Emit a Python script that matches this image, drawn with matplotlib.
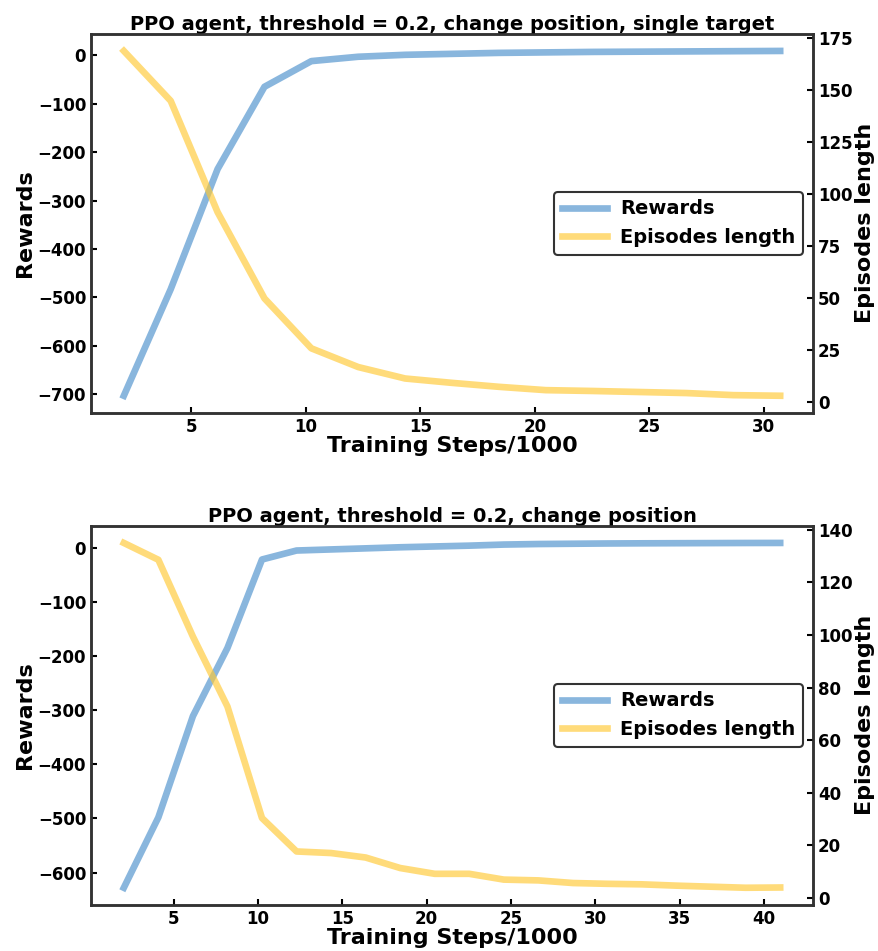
import numpy as np
import matplotlib
matplotlib.use('Agg')
import matplotlib.pyplot as plt

# Training steps (x1000), one point every 2048 steps
steps_single = [2.048 * k for k in range(1, 16)]
steps_multi = [2.048 * k for k in range(1, 21)]

# Top panel: single target
rewards_single = [-703, -483, -235, -65, -12, -3, 1, 3, 5, 6, 7, 7.5, 8, 8.5, 9]
eplen_single = [169, 145, 91.5, 50, 26, 17, 11.5, 9.4, 7.5, 5.9, 5.5, 5.0, 4.5, 3.5, 3.2]

# Bottom panel: change position
rewards_multi = [-628, -498, -311, -185, -21.6, -5, -3, -1, 1, 2.5,
                 4, 6, 7, 7.5, 8, 8.3, 8.5, 8.7, 8.9, 9]
eplen_multi = [135, 128.6, 99.4, 72.8, 30.4, 17.7, 17.1, 15.4, 11.4, 9.2,
               9.2, 7.0, 6.7, 5.7, 5.4, 5.2, 4.7, 4.3, 3.9, 4.0]

titles = ['PPO agent, threshold = 0.2, change position, single target',
          'PPO agent, threshold = 0.2, change position']

blue = '#4a8fcc'
yellow = '#ffc933'

plt.rcParams['font.weight'] = 'bold'
plt.rcParams['axes.labelweight'] = 'bold'
plt.rcParams['axes.titleweight'] = 'bold'

fig = plt.figure(figsize=(8.79, 9.51), dpi=100)
W, H = 879.0, 951.0
boxes = [(91, 33.7, 813, 413), (91, 525.7, 813, 905)]

panels = [(steps_single, rewards_single, eplen_single),
          (steps_multi, rewards_multi, eplen_multi)]

for (x0, y0, x1, y1), (steps, rew, eplen), title in zip(boxes, panels, titles):
    ax = fig.add_axes([x0 / W, 1 - y1 / H, (x1 - x0) / W, (y1 - y0) / H])
    ax2 = ax.twinx()

    l1, = ax.plot(steps, rew, color=blue, alpha=0.65, lw=4.8, label='Rewards')
    l2, = ax2.plot(steps, eplen, color=yellow, alpha=0.65, lw=4.8, label='Episodes length')

    ax.set_xlabel('Training Steps/1000', fontsize=16, labelpad=0)
    ax.set_ylabel('Rewards', fontsize=16, labelpad=2)
    ax2.set_ylabel('Episodes length', fontsize=16, labelpad=2)
    ax.set_title(title, fontsize=14, pad=2)

    for a in (ax, ax2):
        a.tick_params(direction='in', labelsize=12, width=1.5, length=4)
        for s in a.spines.values():
            s.set_linewidth(1.8)
            s.set_color('#333333')

    leg = ax2.legend(handles=[l1, l2], loc='center right', fontsize=14,
                     handlelength=2.3, handletextpad=0.7,
                     fancybox=True, framealpha=1)
    leg.get_frame().set_edgecolor('#333333')
    leg.get_frame().set_linewidth(1.5)

fig.savefig('out.png', dpi=100)
